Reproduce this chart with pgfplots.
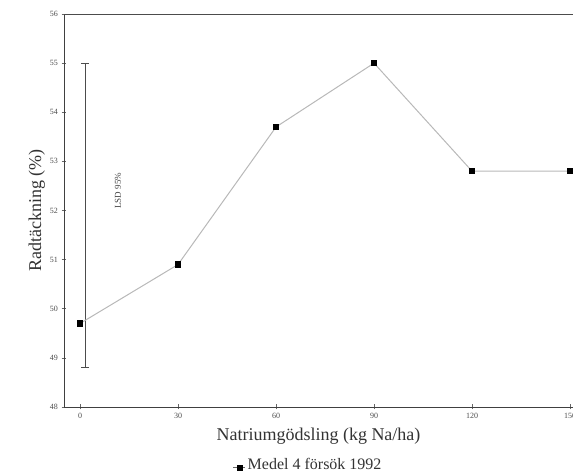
\documentclass[border=0pt]{standalone}
\usepackage{pgfplots}
\pgfplotsset{compat=1.18}
\usepackage{fontspec}
\setmainfont{Liberation Serif}
\usetikzlibrary{calc}

\begin{document}
\begin{tikzpicture}
\begin{axis}[
    scale only axis,
    width=509pt, height=393pt,
    xmin=-4.9, xmax=150.9,
    ymin=48, ymax=56,
    xtick={0,30,60,90,120,150},
    ytick={48,49,50,51,52,53,54,55,56},
    axis x line*=bottom, axis y line*=left,
    axis line style={black!75, line width=0.8pt},
    tick style={black!60, line width=0.5pt},
    major tick length=5pt,
    tick align=center,
    every tick label/.append style={font=\fontsize{8}{9}\selectfont, text=black!70},
    /pgf/number format/assume math mode=true,
    xlabel={Natriumgödsling (kg Na/ha)},
    ylabel={Radtäckning (\%)},
    xlabel style={font=\fontsize{18}{20}\selectfont, text=black!80, yshift=-3pt},
    ylabel style={font=\fontsize{18}{20}\selectfont, text=black!80, yshift=-2pt},
    legend style={at={(0.48,-0.125)}, anchor=north, draw=none, fill=none,
        font=\fontsize{16}{18}\selectfont, text=black!80, inner sep=0pt},
    legend cell align=left,
    legend image code/.code={
        \draw[black!60, line width=0.6pt] (0pt,-3pt) -- (12pt,-3pt);
        \fill[black] (4pt,-6pt) rectangle (9pt,-1pt);
    },
]
\coordinate (sw) at (rel axis cs:0,0);
\coordinate (ne) at (rel axis cs:1,1);
\draw[black!70, line width=0.8pt] (rel axis cs:0,1) -- (rel axis cs:1,1);
% LSD bar
\addplot[black!70, line width=0.7pt, mark=-, mark size=4pt, forget plot]
    coordinates {(1.5,48.8) (1.5,55.0)};
\node[rotate=90, font=\fontsize{9}{10}\selectfont, text=black!75] at (axis cs:11.6,52.4) {LSD 95\%};
% data
\addplot[black!28, line width=1pt, mark=square*, mark size=2.6pt,
    mark options={fill=black, draw=black}]
    coordinates {(0,49.7) (30,50.9) (60,53.7) (90,55.0) (120,52.8) (150,52.8)};
\legend{Medel 4 försök 1992}
\end{axis}
\pgfresetboundingbox
\path[use as bounding box] ($(sw)+(-64pt,-68pt)$) rectangle ($(ne)+(0pt,14pt)$);
\end{tikzpicture}
\end{document}
